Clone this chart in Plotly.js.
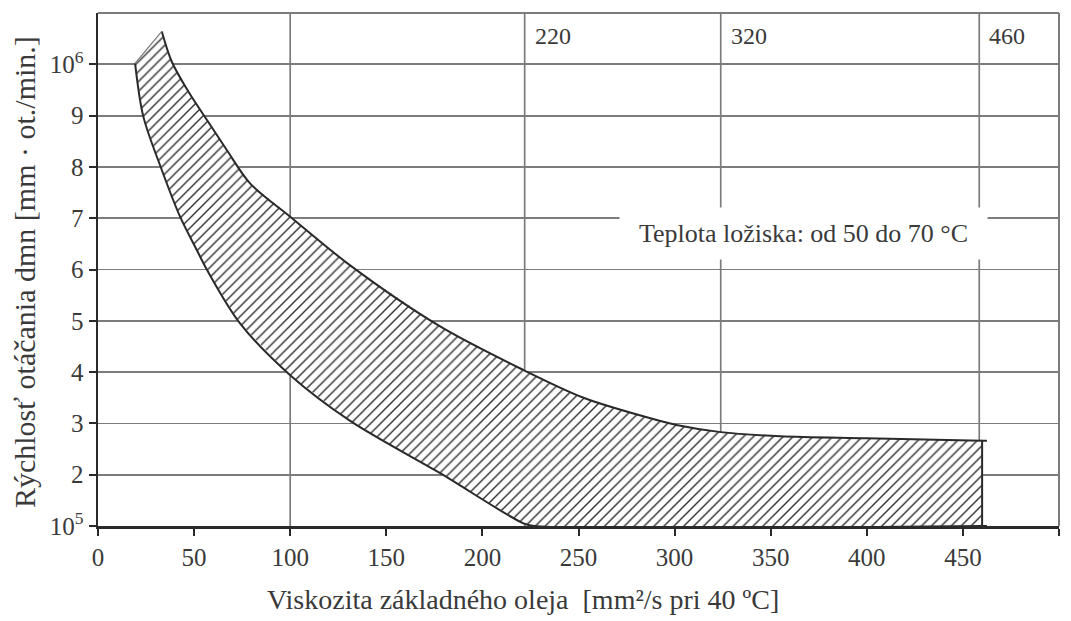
<!DOCTYPE html>
<html>
<head>
<meta charset="utf-8">
<script src="https://cdn.plot.ly/plotly-3.0.1.min.js"></script>
<style>html,body{margin:0;padding:0;background:#fff;}#chart{width:1071px;height:621px;}</style>
</head>
<body>
<div id="chart"></div>
<script>
// Lower boundary of the band (viscosity, speed ×10^5)
var lowerX = [19.3, 23.6, 33.2, 42.7, 51.4, 56.6, 73.9, 100, 131.2, 178, 221.4, 227, 460];
var lowerY = [10.02, 8.98, 7.94, 7.03, 6.38, 6.0, 4.95, 3.94, 3.05, 2.03, 1.05, 1.0, 1.0];
// Upper boundary of the band
var upperX = [33.2, 38.4, 47, 56.6, 67, 79.1, 100, 131.2, 178, 221.4, 252.6, 287.4, 301, 324, 355, 400, 460];
var upperY = [10.64, 10.05, 9.47, 8.92, 8.33, 7.68, 7.03, 6.08, 4.89, 4.04, 3.5, 3.1, 2.97, 2.83, 2.75, 2.71, 2.66];
// Right edge of the band, with the short overhang of the outline
var rightEdgeX = [462.5, 460, 460, 462.5];
var rightEdgeY = [1.0, 1.0, 2.66, 2.66];
// Axis ticks
var xTicks = [0, 50, 100, 150, 200, 250, 300, 350, 400, 450, 500];
var yTicks = [1, 2, 3, 4, 5, 6, 7, 8, 9, 10];
var yTickText = ['10<sup>5</sup>', '2', '3', '4', '5', '6', '7', '8', '9', '10<sup>6</sup>'];
// ISO VG grade reference lines
var gradeLabels = ['220', '320', '460'];
var gradeLineX = [222, 324, 458.5];
var extraGridX = [100];
var noteText = 'Teplota ložiska: od 50 do 70 °C';
var xTitle = 'Viskozita základného oleja \u00a0[mm²/s pri 40 ºC]';
var yTitle = 'Rýchlosť otáčania dmn [mm · ot./min.]';

var serif = 'Liberation Serif, Times New Roman, serif';
var txt = '#3a3a3a';
var grid = '#7c7c7c';
var ink = '#2a2a2a';

// hatched fill: closed polygon from the two boundaries
var polyX = lowerX.concat(upperX.slice().reverse()).concat([lowerX[0]]);
var polyY = lowerY.concat(upperY.slice().reverse()).concat([lowerY[0]]);

var fillTrace = {
  x: polyX, y: polyY, type: 'scatter', mode: 'lines',
  fill: 'toself', fillcolor: 'white',
  fillpattern: {shape: '/', fgcolor: '#2f2f2f', bgcolor: 'white', size: 7, solidity: 0.2},
  line: {width: 0, color: 'rgba(0,0,0,0)'},
  hoverinfo: 'skip', showlegend: false
};
var lowerTrace = {
  x: lowerX, y: lowerY, type: 'scatter', mode: 'lines',
  line: {color: ink, width: 2, shape: 'spline', smoothing: 0.9},
  hoverinfo: 'skip', showlegend: false
};
var upperTrace = {
  x: upperX, y: upperY, type: 'scatter', mode: 'lines',
  line: {color: ink, width: 2, shape: 'spline', smoothing: 0.9},
  hoverinfo: 'skip', showlegend: false
};
var rightTrace = {
  x: rightEdgeX, y: rightEdgeY, type: 'scatter', mode: 'lines',
  line: {color: ink, width: 2},
  hoverinfo: 'skip', showlegend: false
};
var leftTrace = {
  x: [lowerX[0], upperX[0]], y: [lowerY[0], upperY[0]], type: 'scatter', mode: 'lines',
  line: {color: '#777', width: 1.2},
  hoverinfo: 'skip', showlegend: false
};

var shapes = [];
extraGridX.concat(gradeLineX).forEach(function (v) {
  shapes.push({type: 'line', xref: 'x', yref: 'y', x0: v, x1: v, y0: 1, y1: 11, layer: 'below', line: {color: grid, width: 1.7}});
});
// frame top and right
shapes.push({type: 'line', xref: 'paper', yref: 'paper', x0: 0, x1: 1, y0: 1, y1: 1, layer: 'below', line: {color: grid, width: 2}});
shapes.push({type: 'line', xref: 'paper', yref: 'paper', x0: 1, x1: 1, y0: 0, y1: 1, layer: 'below', line: {color: grid, width: 2}});

var annotations = gradeLabels.map(function (t, i) {
  return {x: gradeLineX[i], y: 10.55, xref: 'x', yref: 'y', text: t, showarrow: false, xanchor: 'left', yanchor: 'middle', xshift: 8, font: {family: serif, size: 24, color: txt}};
});
annotations.push({x: 367, y: 6.71, xref: 'x', yref: 'y', text: noteText, showarrow: false, xanchor: 'center', yanchor: 'middle', bgcolor: 'white', width: 367, height: 51, borderpad: 0, font: {family: serif, size: 26, color: txt}});
annotations.push({x: 0.442, y: -0.144, xref: 'paper', yref: 'paper', text: xTitle, showarrow: false, xanchor: 'center', yanchor: 'middle', font: {family: serif, size: 28, color: txt}});
annotations.push({x: -0.077, y: 0.495, xref: 'paper', yref: 'paper', text: yTitle, textangle: -90, showarrow: false, xanchor: 'center', yanchor: 'middle', font: {family: serif, size: 30, color: txt}});

var layout = {
  width: 1071, height: 621,
  margin: {l: 98, r: 12, t: 13, b: 95, pad: 0},
  paper_bgcolor: 'white', plot_bgcolor: 'white',
  showlegend: false,
  font: {family: serif, color: txt, size: 25},
  xaxis: {
    range: [0, 500], tickvals: xTicks, ticktext: xTicks.map(String),
    showgrid: false, zeroline: false,
    showline: true, linecolor: ink, linewidth: 2.5,
    ticks: 'outside', ticklen: 7, tickwidth: 2, tickcolor: ink,
    tickfont: {family: serif, size: 25, color: txt},
    fixedrange: true
  },
  yaxis: {
    range: [1, 11], tickvals: yTicks, ticktext: yTickText,
    showgrid: true, gridcolor: grid, gridwidth: 1.8, zeroline: false,
    showline: true, linecolor: ink, linewidth: 2.5,
    ticks: 'outside', ticklen: 7, tickwidth: 2, tickcolor: ink,
    tickfont: {family: serif, size: 25, color: txt},
    fixedrange: true
  },
  shapes: shapes,
  annotations: annotations
};

Plotly.newPlot('chart', [fillTrace, lowerTrace, upperTrace, rightTrace, leftTrace], layout, {displayModeBar: false, staticPlot: true});
</script>
</body>
</html>
